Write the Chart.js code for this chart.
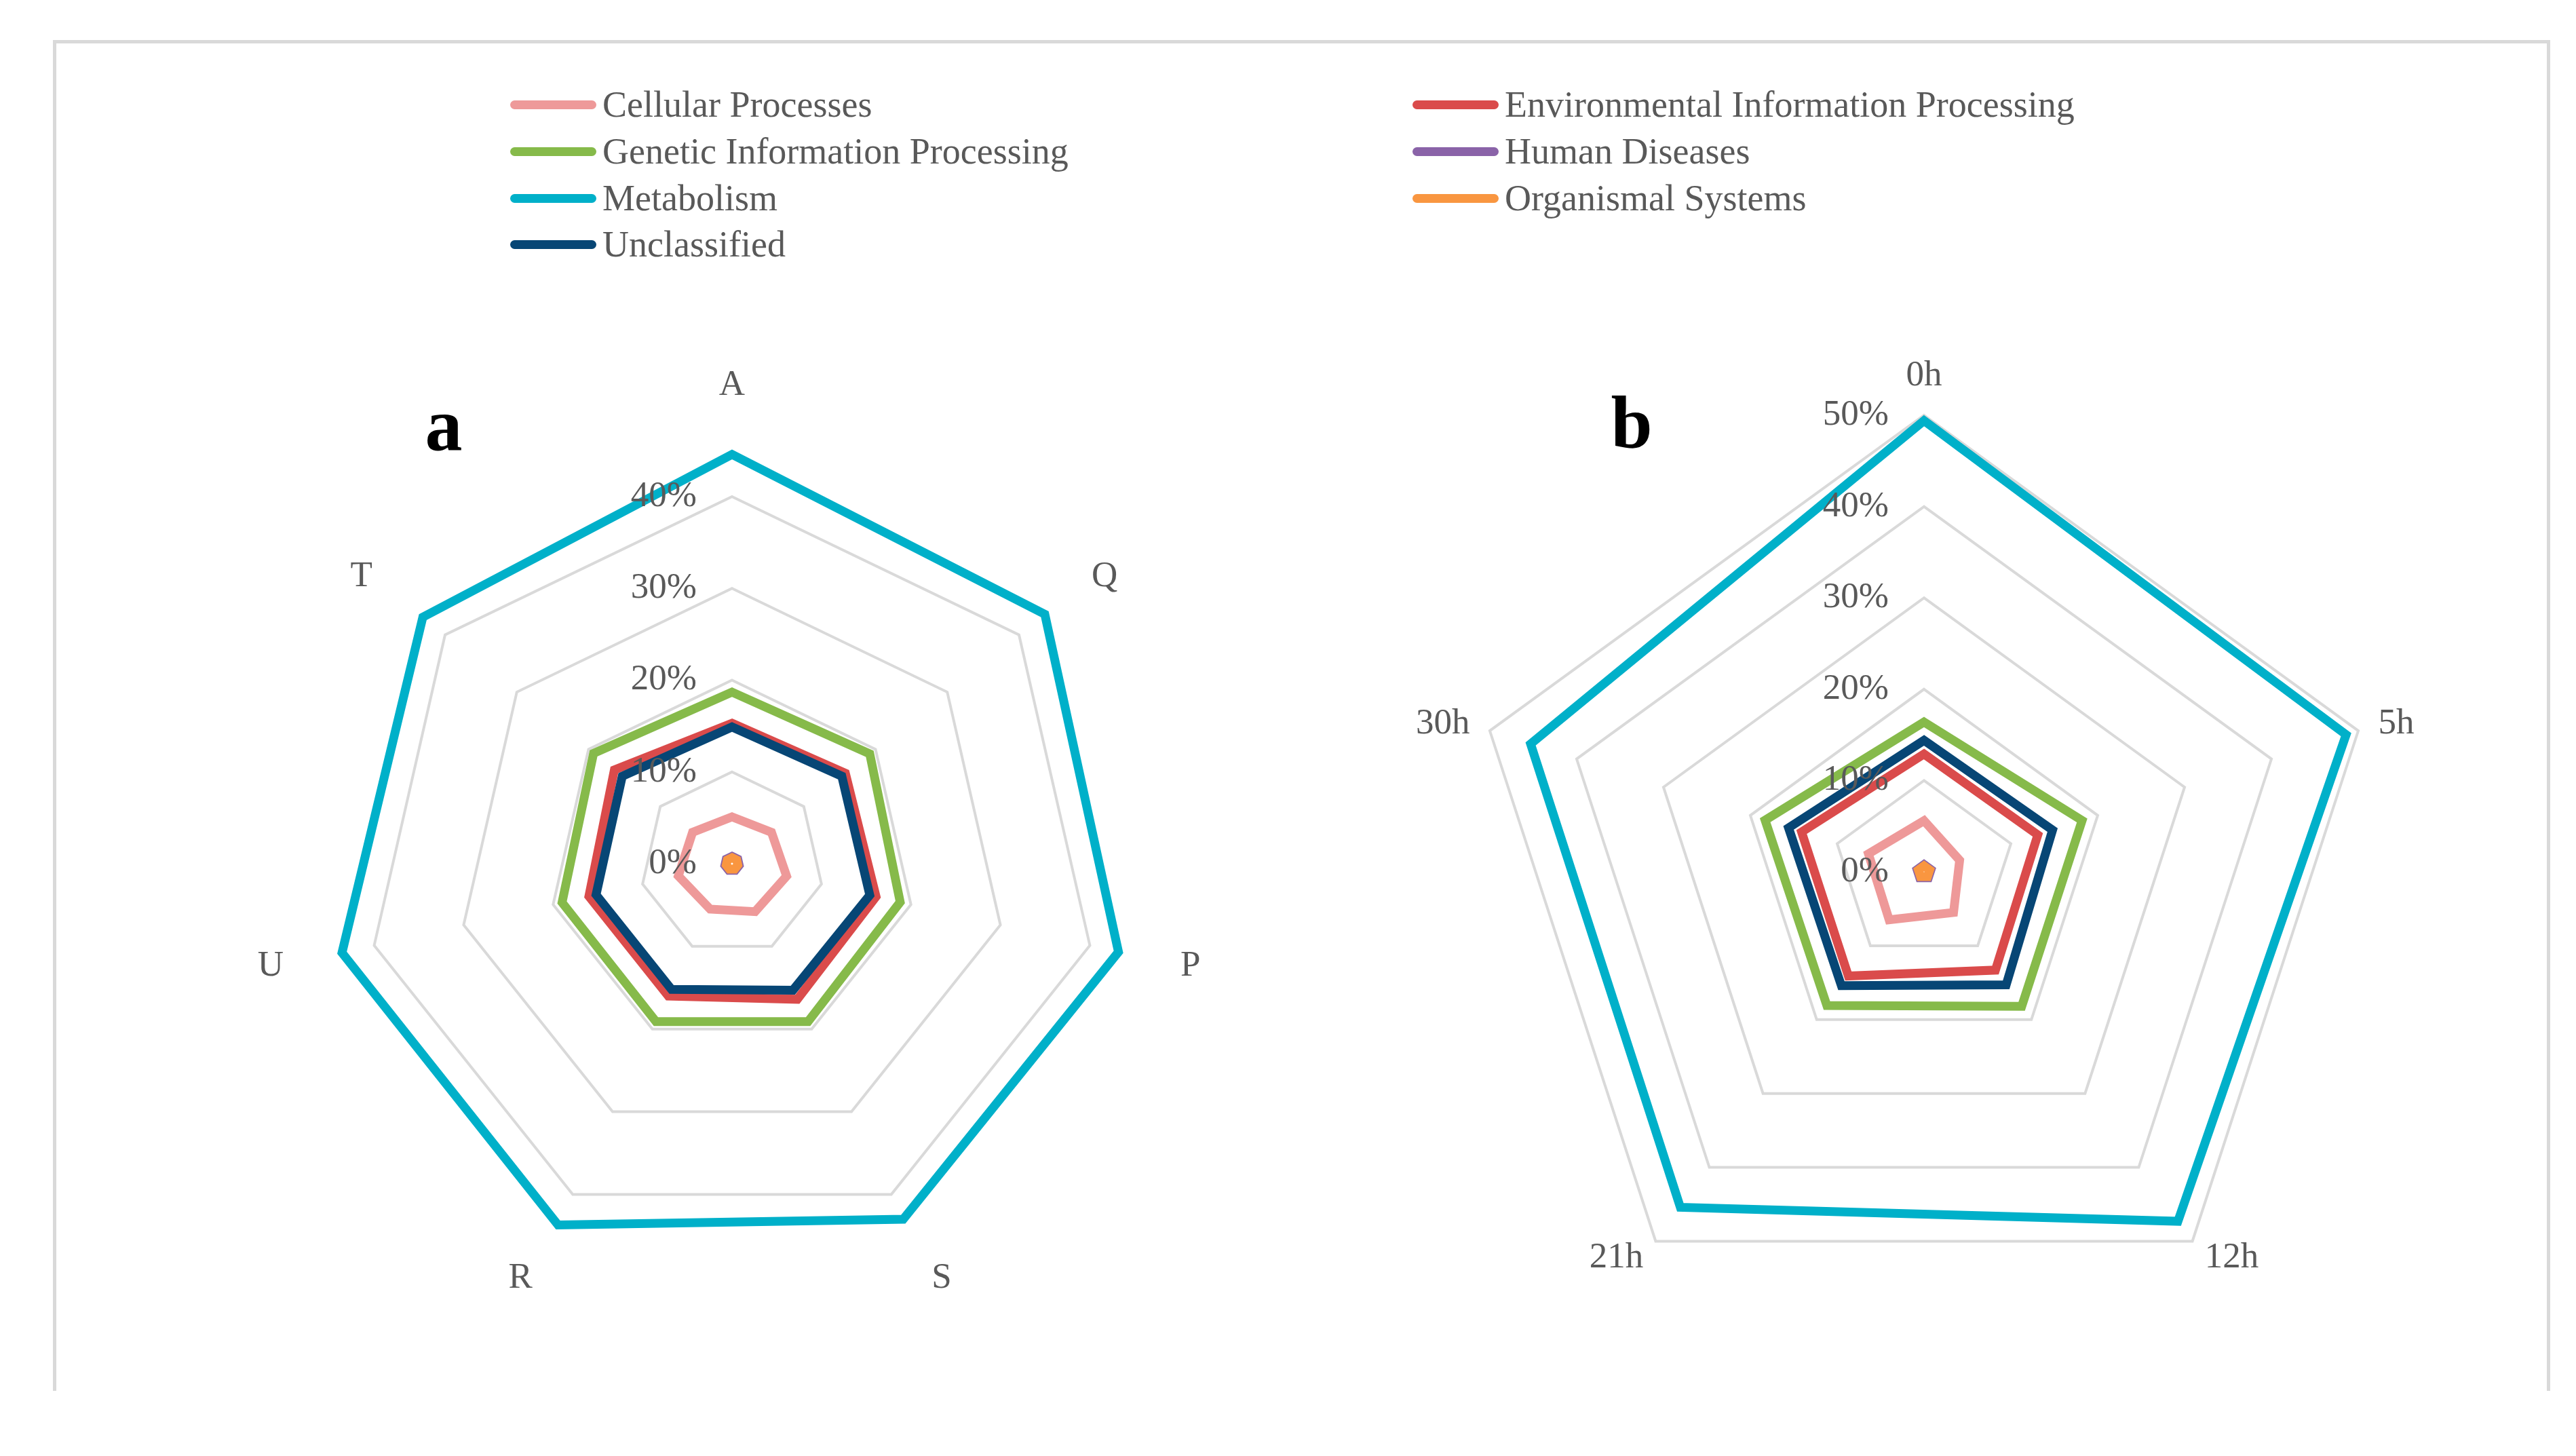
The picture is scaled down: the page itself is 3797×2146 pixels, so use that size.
<!DOCTYPE html>
<html>
<head>
<meta charset="utf-8">
<script src="https://cdn.jsdelivr.net/npm/chart.js@4.4.1/dist/chart.umd.min.js"></script>
<style>
html, body { margin: 0; padding: 0; background: #fff; }
body { width: 3797px; height: 2146px; position: relative; overflow: hidden; font-family: "Liberation Serif", "Times New Roman", serif; }
#frame { position: absolute; left: 78px; top: 59px; width: 3671px; height: 1986px; border: 5px solid #d9d9d9; border-bottom: none; }
.panel { position: absolute; width: 200px; text-align: center; font-weight: bold; font-size: 110px; line-height: 1; color: #000; }
.item { position: absolute; height: 0; }
.item i { position: absolute; left: 0; top: -6.5px; width: 127px; height: 13px; border-radius: 6.5px; }
.item span { position: absolute; left: 136px; top: 0; transform: translateY(-50%); font-size: 54px; line-height: 1; color: #595959; white-space: nowrap; }
canvas { position: absolute; }
</style>
</head>
<body>
<div id="frame"></div>
<div id="legend"></div>
<div class="panel" style="left:554px; top:571px;">a</div>
<div class="panel" style="left:2305px; top:568px;">b</div>
<canvas id="chartA" width="1500" height="1500" style="left:329px; top:523px; width:1500px; height:1500px;"></canvas>
<canvas id="chartB" width="1600" height="1600" style="left:2036px; top:485px; width:1600px; height:1600px;"></canvas>
<script>
// series (legend order)
const seriesNames = ['Cellular Processes', 'Environmental Information Processing', 'Genetic Information Processing',
  'Human Diseases', 'Metabolism', 'Organismal Systems', 'Unclassified'];
const seriesColors = ['#ee9999', '#da4b4b', '#86ba4a', '#8a63a8', '#00b0c9', '#f99640', '#074675'];

// panel a
const axisA = ['A', 'Q', 'P', 'S', 'R', 'U', 'T'];
const cellularA = [5.1, 5.5, 6.1, 5.8, 5.5, 6.0, 5.5];
const envA = [15.3, 15.8, 16.1, 16.4, 16.0, 16.0, 16.4];
const geneticA = [18.7, 19.2, 18.8, 19.1, 19.1, 19.0, 19.3];
const humanA = [0.8, 0.8, 0.8, 0.8, 0.8, 0.8, 0.8];
const metabolismA = [44.6, 43.6, 43.2, 43.0, 43.7, 43.6, 43.1];
const organismalA = [0.65, 0.65, 0.65, 0.65, 0.65, 0.65, 0.65];
const unclassifiedA = [14.9, 15.3, 15.4, 15.3, 15.2, 15.2, 15.3];

// panel b
const axisB = ['0h', '5h', '12h', '21h', '30h'];
const cellularB = [5.6, 4.1, 5.5, 6.5, 6.4];
const envB = [12.9, 13.1, 13.3, 14.1, 14.1];
const geneticB = [16.4, 18.2, 18.2, 18.1, 18.3];
const humanB = [0.8, 0.8, 0.8, 0.8, 0.8];
const metabolismB = [49.4, 48.6, 47.3, 45.4, 45.3];
const organismalB = [0.65, 0.65, 0.65, 0.65, 0.65];
const unclassifiedB = [14.4, 14.8, 15.3, 15.4, 15.6];

// legend, two columns
const legend = document.getElementById('legend');
const legendX = [752, 2082];
const legendY = [154, 223, 292, 360];
seriesNames.forEach((name, i) => {
  const d = document.createElement('div');
  d.className = 'item';
  d.style.left = legendX[i % 2] + 'px';
  d.style.top = legendY[Math.floor(i / 2)] + 'px';
  d.innerHTML = '<i style="background:' + seriesColors[i] + '"></i><span>' + name + '</span>';
  legend.appendChild(d);
});

// tick labels left of the top axis, category labels outside the rings
const radarText = {
  id: 'radarText',
  afterDatasetsDraw(chart, args, opts) {
    const s = chart.scales.r;
    const ctx = chart.ctx;
    ctx.save();
    ctx.fillStyle = '#595959';
    ctx.font = '53px "Liberation Serif"';
    ctx.textBaseline = 'middle';
    ctx.textAlign = 'right';
    s.ticks.forEach(t => {
      const d = s.getDistanceFromCenterForValue(t.value);
      ctx.fillText(t.value + '%', s.xCenter - 52, s.yCenter - d);
    });
    const dist = s.getDistanceFromCenterForValue(s.max) + opts.gap;
    chart.data.labels.forEach((lab, i) => {
      const p = s.getPointPosition(i, dist);
      const dx = p.x - s.xCenter;
      if (Math.abs(dx) < 1) {
        ctx.textAlign = 'center';
        ctx.textBaseline = 'bottom';
      } else {
        ctx.textAlign = dx > 0 ? 'left' : 'right';
        ctx.textBaseline = 'middle';
      }
      ctx.fillText(lab, p.x, p.y);
    });
    ctx.restore();
  }
};

function makeDatasets(values) {
  return seriesNames.map((name, i) => ({
    label: name,
    data: values[i],
    borderColor: seriesColors[i],
    backgroundColor: 'transparent',
    borderWidth: 13,
    pointRadius: 0,
    fill: false,
    clip: false,
    order: seriesNames.length - i
  }));
}

function radar(id, labels, values, max, pad, gap) {
  new Chart(document.getElementById(id), {
    type: 'radar',
    data: { labels: labels, datasets: makeDatasets(values) },
    options: {
      responsive: false,
      animation: false,
      devicePixelRatio: 1,
      layout: { padding: pad },
      elements: { line: { tension: 0, borderJoinStyle: 'miter' } },
      plugins: { legend: { display: false }, tooltip: { enabled: false }, radarText: { gap: gap } },
      scales: {
        r: {
          min: 0,
          max: max,
          ticks: { stepSize: 10, display: false },
          grid: { color: '#d9d9d9', lineWidth: 4 },
          angleLines: { display: false },
          pointLabels: { display: false }
        }
      }
    },
    plugins: [radarText]
  });
}

radar('chartA', axisA, [cellularA, envA, geneticA, humanA, metabolismA, organismalA, unclassifiedA], 40, 209, 137);
radar('chartB', axisB, [cellularB, envB, geneticB, humanB, metabolismB, organismalB, unclassifiedB], 50, 127, 31);
</script>
</body>
</html>
